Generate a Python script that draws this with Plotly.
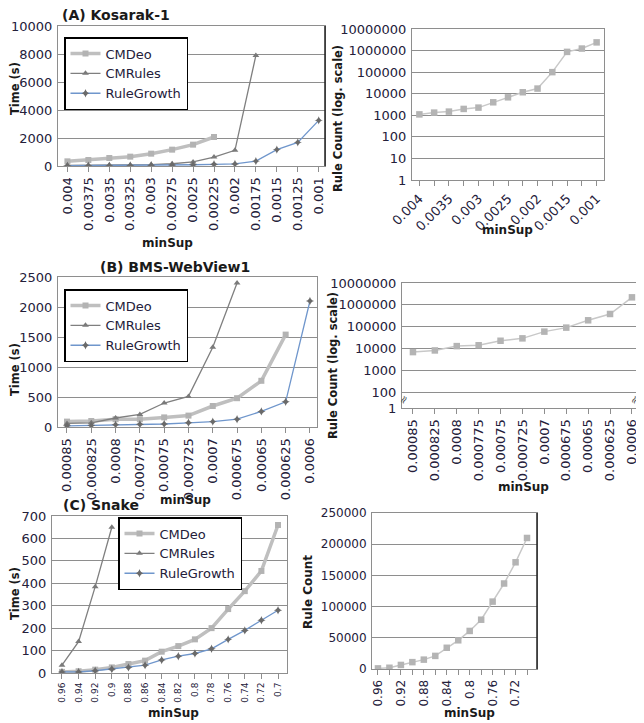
import plotly.graph_objects as go

# ---------------- DATA ----------------
# (A) Kosarak-1
a_minsup = ["0.004", "0.00375", "0.0035", "0.00325", "0.003", "0.00275", "0.0025",
            "0.00225", "0.002", "0.00175", "0.0015", "0.00125", "0.001"]
a_cmdeo = [333, 428, 571, 667, 881, 1167, 1524, 2071]
a_cmrules = [50, 60, 70, 80, 100, 160, 290, 640, 1120, 7900]
a_rulegrowth = [20, 25, 30, 40, 50, 70, 90, 120, 150, 350, 1170, 1690, 3260]
a_rulecount = [1100, 1330, 1480, 1970, 2270, 4000, 6800, 11700, 17300, 100000,
               870000, 1240000, 2400000]
a_count_ticklabels = ["0.004", "", "0.0035", "", "0.003", "", "0.0025", "",
                      "0.002", "", "0.0015", "", "0.001"]

# (B) BMS-WebView1
b_minsup = ["0.00085", "0.000825", "0.0008", "0.000775", "0.00075", "0.000725",
            "0.0007", "0.000675", "0.00065", "0.000625", "0.0006"]
b_cmdeo = [90, 100, 130, 130, 160, 190, 350, 480, 770, 1540]
b_cmrules = [60, 70, 150, 210, 400, 510, 1330, 2400]
b_rulegrowth = [20, 25, 40, 45, 50, 70, 90, 130, 260, 420, 2100]
b_rulecount = [6800, 8100, 12800, 14000, 22500, 29000, 59000, 90000, 195000,
               380000, 2200000]

# (C) Snake
c_minsup = ["0.96", "0.94", "0.92", "0.9", "0.88", "0.86", "0.84", "0.82", "0.8",
            "0.78", "0.76", "0.74", "0.72", "0.7"]
c_cmdeo = [5, 8, 15, 25, 40, 55, 95, 120, 150, 200, 285, 365, 455, 660]
c_cmrules = [35, 140, 385, 650]
c_rulegrowth = [5, 5, 10, 18, 25, 35, 58, 75, 87, 108, 150, 190, 235, 280]
c_rulecount = [1000, 2000, 6500, 11000, 15000, 21000, 34000, 46000, 61000, 79000,
               108000, 137000, 171000, 210000]
c_count_ticklabels = ["0.96", "", "0.92", "", "0.88", "", "0.84", "", "0.8", "",
                      "0.76", "", "0.72", ""]

log_tickvals = [1, 10, 100, 1000, 10000, 100000, 1000000, 10000000]
log_ticktext = ["1", "10", "100", "1000", "10000", "100000", "1000000", "10000000"]
b_log_tickvals = [10 ** 1.27, 100, 1000, 10000, 100000, 1000000, 10000000]
b_log_ticktext = ["1", "100", "1000", "10000", "100000", "1000000", "10000000"]

series_names = ["CMDeo", "CMRules", "RuleGrowth"]

# ---------------- STYLE ----------------
FONT = "DejaVu Sans"
TICKC = "#24203a"
GRID = "#8e8e8e"
C_DEO = "#bfbfbf"
C_RUL = "#7f7f7f"
C_RG = "#6f96cc"
OFF = 8                      # page body margin
W, H = 644 - OFF, 723 - OFF  # figure size so that it fits the window


def px_x(x):
    return (x - OFF) / W


def px_y(y):
    return 1 - (y - OFF) / H


fig = go.Figure()


def add_time_traces(xa, ya, cats, deo, rul, rg, legend, show):
    fig.add_trace(go.Scatter(
        x=cats[:len(deo)], y=deo, name=series_names[0], xaxis=xa, yaxis=ya,
        mode="lines+markers", line=dict(color=C_DEO, width=3.5),
        marker=dict(symbol="square", size=6, color="#b3b3b3"),
        legend=legend, showlegend=show))
    fig.add_trace(go.Scatter(
        x=cats[:len(rul)], y=rul, name=series_names[1], xaxis=xa, yaxis=ya,
        mode="lines+markers", line=dict(color=C_RUL, width=1.3),
        marker=dict(symbol="triangle-up", size=6, color="#7a7a7a"),
        legend=legend, showlegend=show))
    fig.add_trace(go.Scatter(
        x=cats[:len(rg)], y=rg, name=series_names[2], xaxis=xa, yaxis=ya,
        mode="lines+markers", line=dict(color=C_RG, width=1.3),
        marker=dict(symbol="star-diamond", size=6, color="#6a6a6a"),
        legend=legend, showlegend=show))


def add_count_trace(xa, ya, cats, vals):
    fig.add_trace(go.Scatter(
        x=cats, y=vals, xaxis=xa, yaxis=ya, mode="lines+markers",
        line=dict(color="#c8c8c8", width=1.5),
        marker=dict(symbol="square", size=6.5, color="#b4b4b4"),
        showlegend=False))


add_time_traces("x", "y", a_minsup, a_cmdeo, a_cmrules, a_rulegrowth, "legend", True)
add_count_trace("x2", "y2", a_minsup, a_rulecount)
add_time_traces("x3", "y3", b_minsup, b_cmdeo, b_cmrules, b_rulegrowth, "legend2", True)
add_count_trace("x4", "y4", b_minsup, b_rulecount)
add_time_traces("x5", "y5", c_minsup, c_cmdeo, c_cmrules, c_rulegrowth, "legend3", True)
add_count_trace("x6", "y6", c_minsup, c_rulecount)


def xaxis(dom, yanchor, cats, rng, size, angle, ticktext=None):
    d = dict(domain=dom, anchor=yanchor, type="category", categoryorder="array",
             categoryarray=cats, range=rng, showgrid=False, showline=True,
             mirror=True, linecolor=GRID, linewidth=1, ticks="outside",
             ticklen=5, tickcolor=GRID, tickangle=angle, automargin=False,
             tickfont=dict(family=FONT, size=size, color=TICKC), zeroline=False)
    d["tickmode"] = "array"
    d["tickvals"] = cats
    d["ticktext"] = ticktext if ticktext is not None else cats
    return d


def yaxis(dom, xanchor, rng, dtick=None, typ="linear", tickvals=None, ticktext=None):
    d = dict(domain=dom, anchor=xanchor, range=rng, type=typ, showgrid=True,
             gridcolor=GRID, gridwidth=1, showline=True, mirror=True,
             linecolor=GRID, linewidth=1, ticks="", zeroline=False,
             automargin=False, ticklabelstandoff=2,
             tickfont=dict(family=FONT, size=13, color=TICKC))
    if dtick is not None:
        d["dtick"] = dtick
        d["tickformat"] = "d"
    if tickvals is not None:
        d["tickmode"] = "array"
        d["tickvals"] = tickvals
        d["ticktext"] = ticktext
    return d


fig.update_layout(
    template="none",
    width=W, height=H, margin=dict(l=0, r=0, t=0, b=0, autoexpand=False),
    paper_bgcolor="white", plot_bgcolor="white",
    font=dict(family=FONT, color=TICKC),
    # A
    xaxis=xaxis([px_x(58), px_x(325)], "y", a_minsup, [-0.45, 12.3], 13, -90),
    yaxis=yaxis([px_y(166), px_y(26)], "x", [0, 10000], dtick=2000),
    xaxis2=xaxis([px_x(412), px_x(604)], "y2", a_minsup, [-0.5, 12.5], 13, -45,
                 a_count_ticklabels),
    yaxis2=yaxis([px_y(180), px_y(29)], "x2", [0, 7], typ="log",
                 tickvals=log_tickvals, ticktext=log_ticktext),
    # B
    xaxis3=xaxis([px_x(58), px_x(317)], "y3", b_minsup, [-0.37, 10.29], 13, -90),
    yaxis3=yaxis([px_y(427), px_y(277)], "x3", [0, 2500], dtick=500),
    xaxis4=xaxis([px_x(402), px_x(644)], "y4", b_minsup, [-0.5, 10.55], 13, -90),
    yaxis4=yaxis([px_y(408), px_y(283)], "x4", [1.27, 7], typ="log",
                 tickvals=b_log_tickvals, ticktext=b_log_ticktext),
    # C
    xaxis5=xaxis([px_x(52), px_x(287)], "y5", c_minsup, [-0.6, 13.54], 9, -90),
    yaxis5=yaxis([px_y(673), px_y(516)], "x5", [0, 700], dtick=100),
    xaxis6=xaxis([px_x(372), px_x(537)], "y6", c_minsup, [-0.52, 13.87], 12, -90,
                 c_count_ticklabels),
    yaxis6=yaxis([px_y(669), px_y(513)], "x6", [0, 250000], dtick=50000),
)
fig.update_layout(yaxis6=dict(tickfont=dict(size=12)))

legend_style = dict(bgcolor="white", bordercolor="black", borderwidth=1.5,
                    font=dict(family=FONT, size=13, color=TICKC),
                    xanchor="left", yanchor="top", itemwidth=30, tracegroupgap=0)
fig.update_layout(
    legend=dict(x=px_x(64), y=px_y(37), **legend_style),
    legend2=dict(x=px_x(64), y=px_y(289), **legend_style),
    legend3=dict(x=px_x(118), y=px_y(517), **legend_style),
)

# right-hand dark borders
for xr, yr in (("x domain", "y domain"), ("x6 domain", "y6 domain")):
    fig.add_shape(type="line", xref=xr, yref=yr, x0=1, x1=1, y0=0, y1=1,
                  line=dict(color="#222222", width=1.5))


def ann(text, x, y, size, bold=True, angle=0, xanchor="center", color="#1a1a1a"):
    fig.add_annotation(text=f"<b>{text}</b>" if bold else text,
                       x=px_x(x), y=px_y(y), xref="paper", yref="paper",
                       showarrow=False, textangle=angle, xanchor=xanchor,
                       yanchor="middle",
                       font=dict(family=FONT, size=size, color=color))


# titles
ann("(A) Kosarak-1", 60, 15, 14, xanchor="left")
ann("(B) BMS-WebView1", 175, 267, 14)
ann("(C) Snake", 61, 505, 14, xanchor="left")
# y titles
ann("Time (s)", 15, 89, 11.5, angle=-90)
ann("Rule Count (log. scale)", 338, 119, 11.5, angle=-90)
ann("Time (s)", 15, 370, 11.5, angle=-90)
ann("Rule Count (log. scale)", 333, 366, 11.5, angle=-90)
ann("Time (s)", 15, 594, 11.5, angle=-90)
ann("Rule Count", 308, 592, 12, angle=-90)
# x titles
ann("minSup", 167, 243, 12)
ann("minSup", 507, 230, 12)
ann("minSup", 185, 500, 12)
ann("minSup", 523, 487, 12)
ann("minSup", 173, 713, 12)
ann("minSup", 469, 713, 12)
# axis-break marks on the B rule-count axis
ann("≈", 403, 400, 11, bold=False, angle=-60, color="#555555")
ann("≈", 634, 400, 11, bold=False, angle=-60, color="#555555")

fig.write_html("out.html")
